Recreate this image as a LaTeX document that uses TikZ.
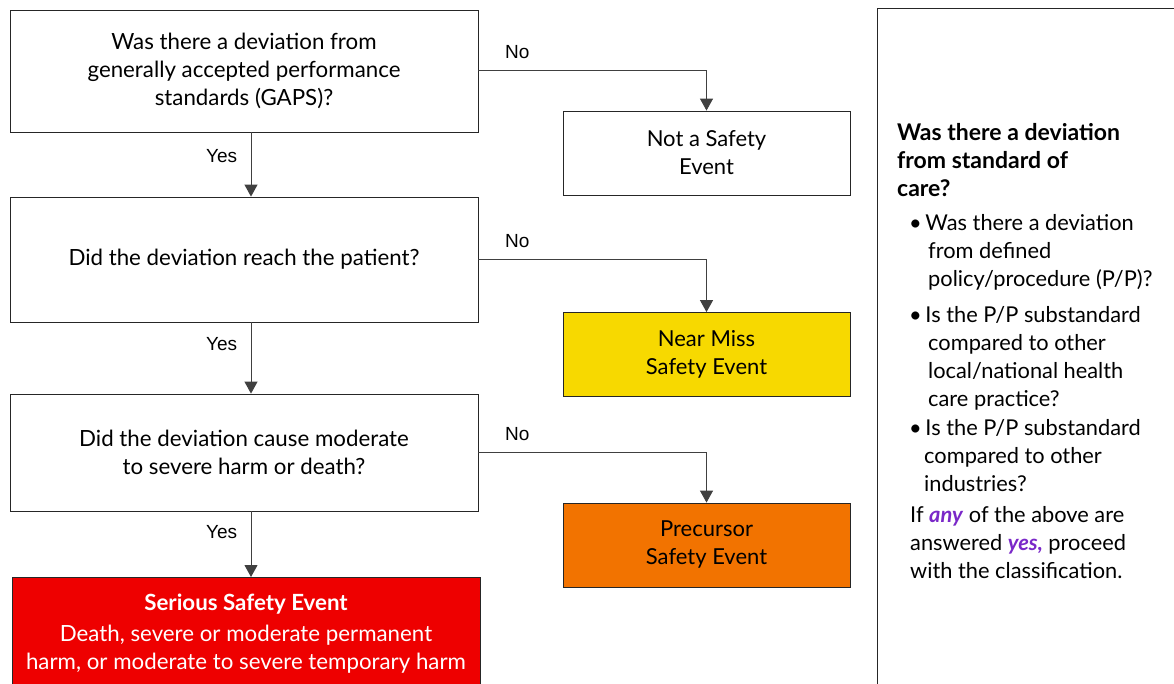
\documentclass[tikz,border=0pt]{standalone}
\usepackage{fontspec}
\setmainfont{Lato}
\newfontfamily\answerfont{Liberation Sans}
\usetikzlibrary{arrows.meta}
\definecolor{nearmiss}{RGB}{247,217,0}
\definecolor{precursor}{RGB}{242,115,0}
\definecolor{serious}{RGB}{238,0,0}
\definecolor{linegray}{RGB}{64,64,64}
\definecolor{anyyes}{RGB}{122,40,200}
\newcommand{\paneltitle}[1]{\textbf{\fontsize{23}{28}\selectfont #1}}
\tikzset{
        question/.style={draw=black!85, line width=0.8pt, minimum width=468pt, align=center, font=\fontsize{22.3}{28}\selectfont},
        outcome/.style={draw=black!85, line width=0.8pt, minimum width=287pt, minimum height=84pt, align=center, font=\fontsize{22}{28}\selectfont},
        flow/.style={draw=linegray, line width=1pt, -{Triangle[width=13pt,length=12pt]}},
        answer/.style={font=\answerfont\fontsize{19}{22}\selectfont, text=black}
}
\begin{document}
\begin{tikzpicture}[x=1pt,y=-1pt]
        \useasboundingbox (0,0) rectangle (1174,684);
        \clip (0,0) rectangle (1174,684);
        \node [question, minimum height=122pt] (gaps) at (244,71) {Was there a deviation from\\generally accepted performance\\standards (GAPS)?};
        \node [question, minimum height=125pt] (reach) at (244,259.5) {Did the deviation reach the patient?};
        \node [question, minimum height=117pt] (harm) at (244,452.5) {Did the deviation cause moderate\\to severe harm or death?};
        \node [question, fill=serious, text=white, anchor=north, inner ysep=17pt, minimum height=130pt, text depth=42pt] (sse) at (246,577) {\textbf{Serious Safety Event}\\[3pt]Death, severe or moderate permanent\\harm, or moderate to severe temporary harm};
        \node [outcome] (notse) at (706.5,153) {Not a Safety\\Event};
        \node [outcome, fill=nearmiss] (nearmiss) at (706.5,354.5) {Near Miss\\Safety Event};
        \node [outcome, fill=precursor] (precursor) at (706.5,545) {Precursor\\Safety Event};
        \draw [flow] (gaps.east) -| (notse.north) node [answer, pos=0.085, above=8pt] {No};
        \draw [flow] (reach.east) -| (nearmiss.north) node [answer, pos=0.085, above=8pt] {No};
        \draw [flow] (harm.east) -| (precursor.north) node [answer, pos=0.085, above=8pt] {No};
        \draw [flow] ([xshift=7pt]gaps.south) -- ([xshift=7pt]reach.north) node [answer, pos=0.37, left=10pt] {Yes};
        \draw [flow] ([xshift=7pt]reach.south) -- ([xshift=7pt]harm.north) node [answer, pos=0.3, left=10pt] {Yes};
        \draw [flow] ([xshift=7pt]harm.south) -- ([xshift=5pt]sse.north) node [answer, pos=0.32, left=10pt] {Yes};
        \draw [black!85, line width=0.8pt] (877,700) -- (877,8) -- (1180,8);
        \node [anchor=north west, align=left, inner sep=0pt, font=\fontsize{21.8}{28}\selectfont] (criteria) at (897,123)
        {\paneltitle{Was there a deviation}\\\paneltitle{from standard of}\\\paneltitle{care?}\\[6pt]
        \hspace*{12pt}\textbullet\,Was there a deviation\\
        \hspace*{31pt}from defined\\
        \hspace*{31pt}policy/procedure (P/P)?\\[8pt]
        \hspace*{12pt}\textbullet\,Is the P/P substandard\\
        \hspace*{31pt}compared to other\\
        \hspace*{31pt}local/national health\\
        \hspace*{31pt}care practice?\\[1pt]
        \hspace*{12pt}\textbullet\,Is the P/P substandard\\
        \hspace*{27pt}compared to other\\
        \hspace*{27pt}industries?\\[3pt]
        \hspace*{13pt}If \textcolor{anyyes}{\textbf{\textit{any}}} of the above are\\
        \hspace*{13pt}answered \textcolor{anyyes}{\textbf{\textit{yes,}}} proceed\\
        \hspace*{13pt}with the classification.};
\end{tikzpicture}
\end{document}
